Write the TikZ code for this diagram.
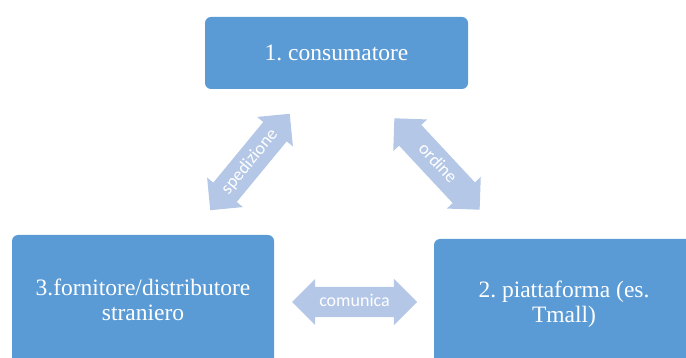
\documentclass[tikz,border=0pt]{standalone}
\usepackage{fontspec}
\setmainfont{Liberation Serif}
\newfontfamily\labelfont{Carlito}
\usetikzlibrary{shapes.arrows,positioning}
\definecolor{boxblue}{HTML}{5B9BD5}
\definecolor{arrowblue}{HTML}{B4C7E7}
\frenchspacing

\begin{document}
\begin{tikzpicture}[
  x=1pt, y=-1pt,
  font=\fontsize{23.5}{25}\selectfont,
  actor/.style={rounded corners=6pt, fill=boxblue, text=white, align=center,
    inner sep=0pt},
  flow/.style={shape=double arrow, fill=arrowblue, text=white,
    font=\labelfont\fontsize{18}{20}\selectfont,
    double arrow head extend=8pt, minimum height=125pt,
    inner xsep=4pt, inner ysep=7.5pt, text height=12pt, text depth=3pt}
]
\useasboundingbox (0,0) rectangle (686,358);
\clip (0,0) rectangle (686,358);

\node[actor, minimum width=263pt, minimum height=72pt] (consumer) at (336.5,53)
  {1. consumatore};
\node[actor, minimum width=262pt, minimum height=130pt] (supplier) at (143,300)
  {3.fornitore/distributore\\ straniero};
\node[actor, minimum width=260pt, minimum height=130pt] (platform) at (564,304)
  {2. piattaforma (es.\\ Tmall)};

\node[flow, rotate=50.5] (shipping) at (250,162) {spedizione};
\node[flow, rotate=-47] (order) at (437,164) {ordine};
\node[flow] (talk) at (354.5,302) {comunica};
\end{tikzpicture}
\end{document}
